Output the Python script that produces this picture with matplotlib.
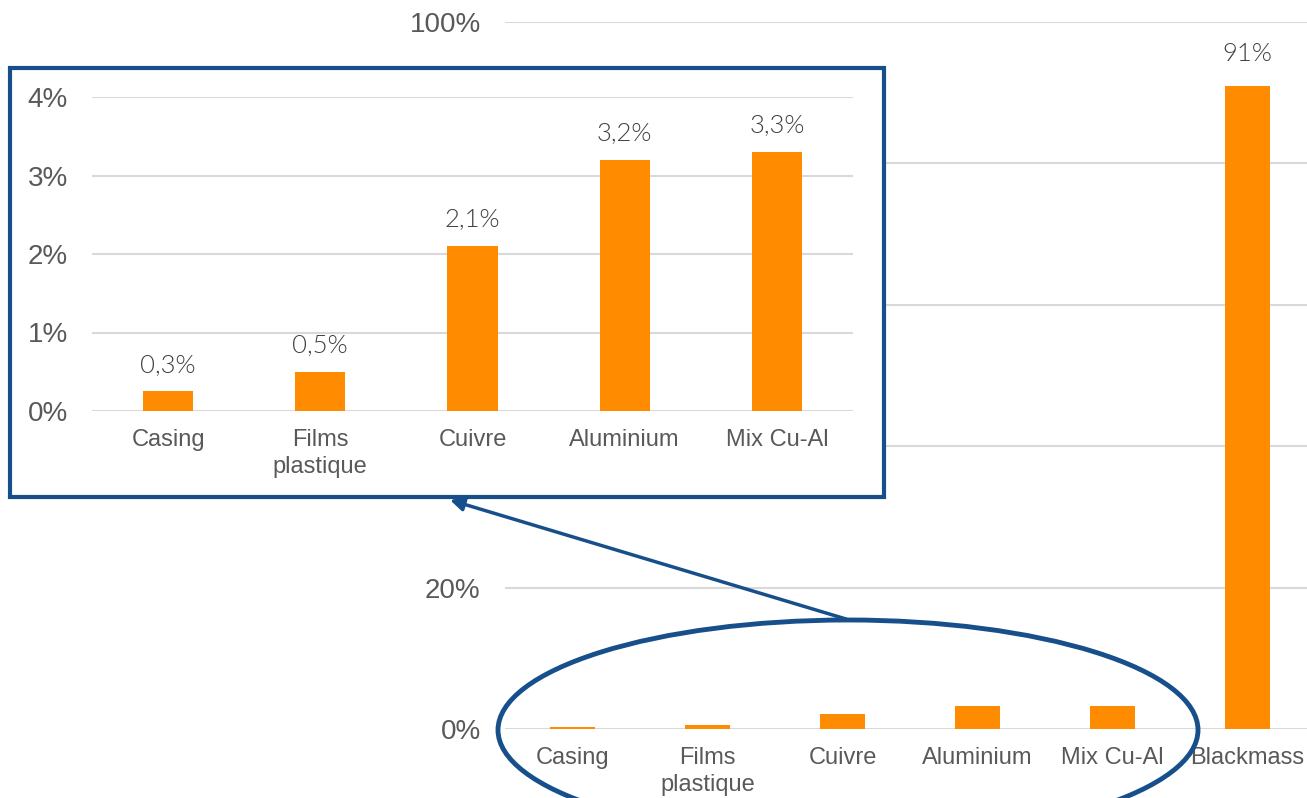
import matplotlib
matplotlib.use("Agg")
import matplotlib.pyplot as plt
import matplotlib.patches as mpatches
import matplotlib.transforms as mtransforms
import numpy as np

# data
categories = ["Casing", "Films\nplastique", "Cuivre", "Aluminium", "Mix Cu-Al", "Blackmass"]
shares = [0.25, 0.5, 2.1, 3.2, 3.3, 91.0]  # percent
value_labels = ["0,3%", "0,5%", "2,1%", "3,2%", "3,3%", "91%"]
main_yticks = [0, 20, 40, 60, 80, 100]
main_ytick_labels = ["0%", "20%", "", "", "", "100%"]  # 40-80 sit behind the zoom box
inset_yticks = [0, 1, 2, 3, 4]

BAR_COLOR = "#FF8B00"
GRID_COLOR = "#D9D9D9"
TICK_COLOR = "#595959"
LABEL_COLOR = "#404040"
BLUE = "#174F8A"

W, H = 1307, 798
fig = plt.figure(figsize=(W / 100, H / 100), dpi=100)
plt.rcParams["font.family"] = ["Liberation Sans", "DejaVu Sans"]
VALUE_FONT = ["Lato", "DejaVu Sans"]


def px_box(x0, y0, x1, y1):
    # pixel box (top-left origin) -> figure fraction rect
    return [x0 / W, 1 - y1 / H, (x1 - x0) / W, (y1 - y0) / H]


def style_axes(ax, yticks, ylabels, ylim):
    ax.set_ylim(*ylim)
    ax.set_yticks(yticks)
    ax.set_yticklabels(ylabels)
    ax.grid(axis="y", color=GRID_COLOR, linewidth=1.5)
    ax.set_axisbelow(True)
    for s in ax.spines.values():
        s.set_visible(False)
    ax.tick_params(axis="both", length=0, labelcolor=TICK_COLOR)
    ax.tick_params(axis="y", pad=17.5, labelsize=20)
    ax.tick_params(axis="x", pad=13, labelsize=17)


# main chart
ax = fig.add_axes(px_box(505, 22, 1315, 729))
x = np.arange(len(categories))
ax.bar(x, shares, width=0.33, color=BAR_COLOR, zorder=2)
ax.set_xlim(-0.5, len(categories) - 0.5)
ax.set_xticks(x)
ax.set_xticklabels(categories, linespacing=1.3)
style_axes(ax, main_yticks, main_ytick_labels, (0, 100))
ax.annotate(value_labels[-1], (x[-1], shares[-1]), xytext=(0, 14), textcoords="offset points",
            ha="center", va="bottom", fontsize=18.5, color=LABEL_COLOR, family=VALUE_FONT,
            fontweight=300)

# inset frame
trans_px = mtransforms.Affine2D().scale(1 / W, -1 / H).translate(0, 1) + fig.transFigure
frame = mpatches.Rectangle((10, 68), 874, 429, transform=trans_px, facecolor="white",
                           edgecolor=BLUE, linewidth=3, zorder=1)
fig.patches.append(frame)

# inset chart
ax2 = fig.add_axes(px_box(92, 97, 853, 411), zorder=2)
ax2.patch.set_alpha(0)
xi = np.arange(len(categories) - 1)
ax2.bar(xi, shares[:-1], width=0.33, color=BAR_COLOR, zorder=2)
ax2.set_xlim(-0.5, len(xi) - 0.5)
ax2.set_xticks(xi)
ax2.set_xticklabels(categories[:-1], linespacing=1.3)
style_axes(ax2, inset_yticks, [f"{t}%" for t in inset_yticks], (0, 4))
for xv, v, lab in zip(xi, shares[:-1], value_labels[:-1]):
    ax2.annotate(lab, (xv, v), xytext=(0, 10), textcoords="offset points",
                 ha="center", va="bottom", fontsize=18.5, color=LABEL_COLOR,
                 family=VALUE_FONT, fontweight=300)

# ellipse + arrow
ell = mpatches.Ellipse((848, 730), 700, 220, transform=trans_px, facecolor="none",
                       edgecolor=BLUE, linewidth=3.5, zorder=3)
fig.patches.append(ell)
arrow = mpatches.FancyArrowPatch((846, 619), (450, 500), transform=trans_px,
                                 arrowstyle="-|>,head_length=8,head_width=4",
                                 color=BLUE, linewidth=2.5, zorder=3, shrinkA=0, shrinkB=0)
fig.patches.append(arrow)

fig.savefig("out.png", dpi=100)
